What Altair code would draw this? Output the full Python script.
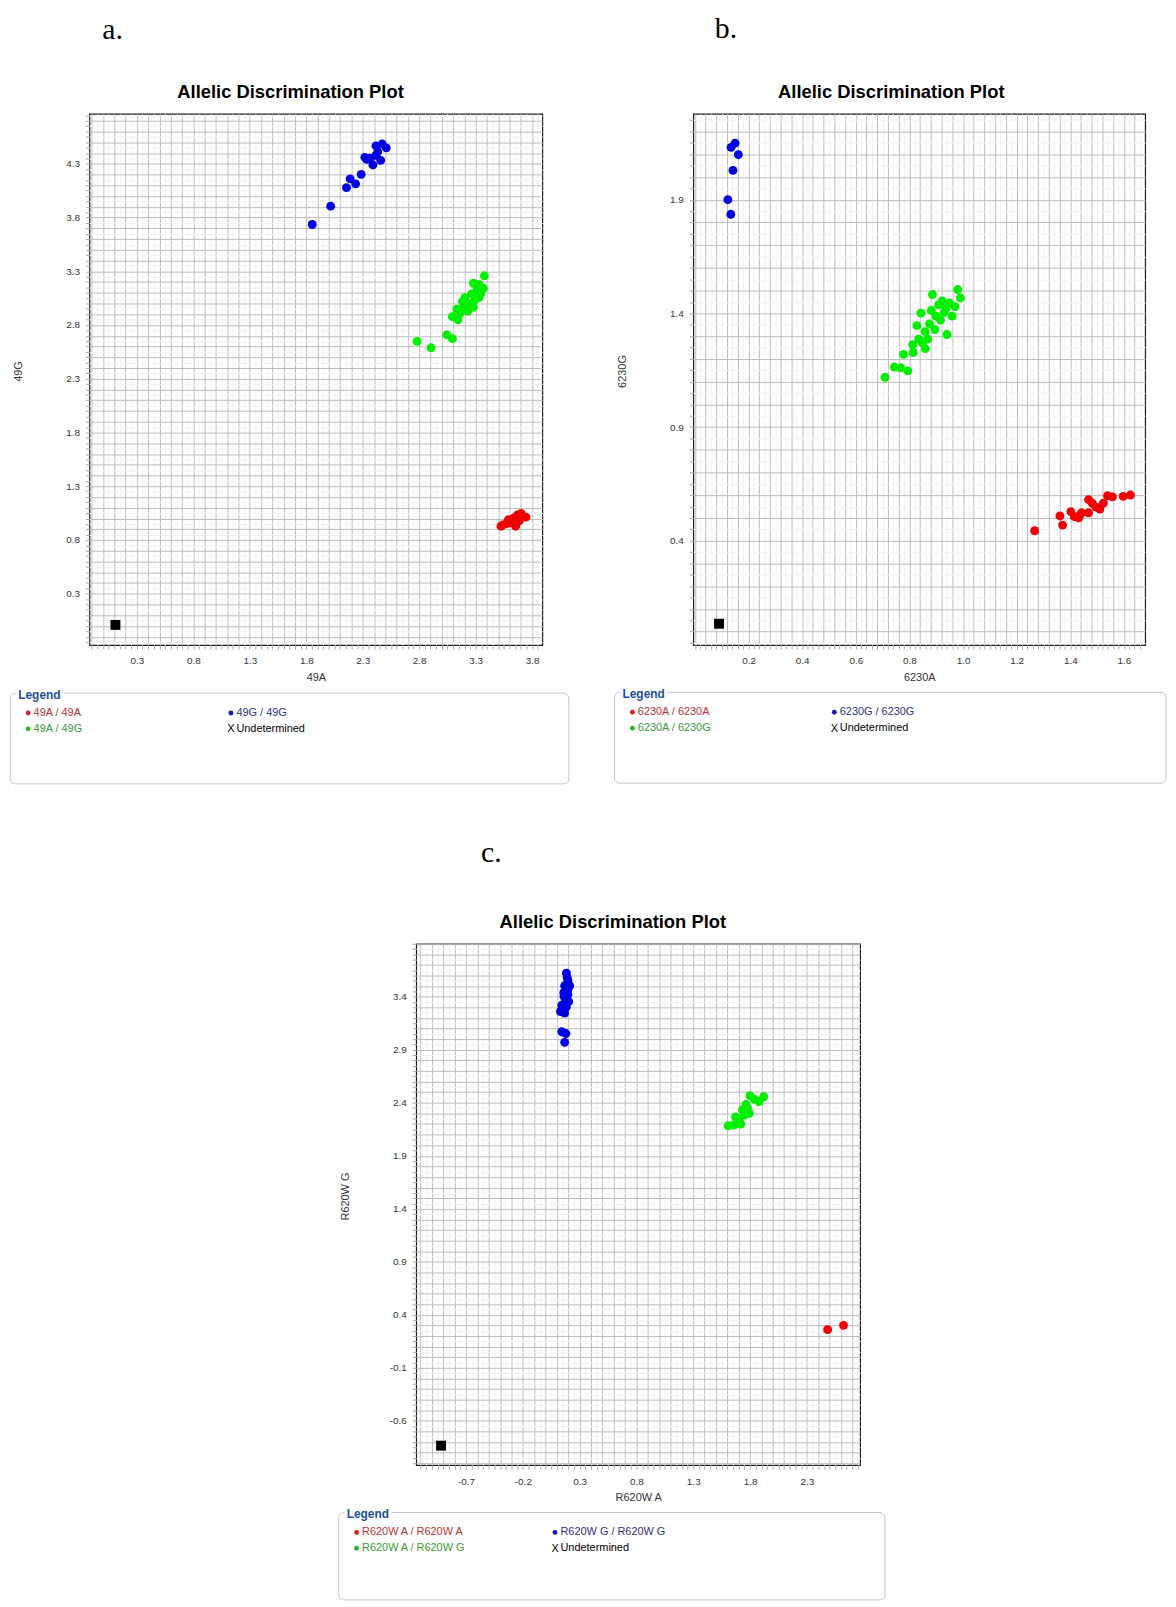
import altair as alt
import numpy as np
import pandas as pd

FONT = "Liberation Sans"
SERIF = "Liberation Serif"
PLOT_TITLE = "Allelic Discrimination Plot"
GENOTYPES = ["homA", "homG", "het"]
POINT_COLORS = ["#f00000", "#0000e0", "#00f000"]
LEG_DOT_COLORS = ["#d42020", "#1414b4", "#28b428"]
LEG_TEXT_COLORS = ["#b83232", "#303088", "#3a9a3a", "#000000"]

# ---------------- panel a ----------------
A_LETTER = "a."
A_X_TITLE, A_Y_TITLE = "49A", "49G"
A_X_TICKS = ["0.3", "0.8", "1.3", "1.8", "2.3", "2.8", "3.3", "3.8"]
A_Y_TICKS = ["0.3", "0.8", "1.3", "1.8", "2.3", "2.8", "3.3", "3.8", "4.3"]
A_LEGEND = ["49A / 49A", "49G / 49G", "49A / 49G", "Undetermined"]
A_RED_X = [3.524, 3.573, 3.621, 3.654, 3.670, 3.703, 3.745, 3.589, 3.638, 3.540, 3.686, 3.600, 3.660]
A_RED_Y = [0.928, 0.953, 0.971, 0.928, 1.034, 1.048, 1.013, 0.988, 1.006, 0.940, 0.978, 0.960, 0.990]
A_BLUE_X = [1.853, 2.016, 2.156, 2.189, 2.237, 2.286, 2.335, 2.368, 2.390, 2.417, 2.417, 2.459, 2.472, 2.508, 2.319, 2.433]
A_BLUE_Y = [3.735, 3.905, 4.078, 4.159, 4.113, 4.201, 4.342, 4.353, 4.289, 4.378, 4.466, 4.332, 4.484, 4.448, 4.360, 4.410]
A_GREEN_X = [2.781, 2.905, 3.045, 3.094, 3.094, 3.143, 3.133, 3.182, 3.205, 3.231, 3.247, 3.280,
             3.296, 3.328, 3.345, 3.280, 3.328, 3.368, 3.377, 3.166, 3.198, 3.263, 3.312]
A_GREEN_Y = [2.648, 2.588, 2.708, 2.673, 2.877, 2.849, 2.948, 3.018, 3.054, 2.930, 2.999, 2.966,
             3.036, 3.054, 3.089, 3.188, 3.177, 3.142, 3.258, 2.913, 2.983, 3.089, 3.124]
A_UND_X, A_UND_Y = [0.11], [0.01]

# ---------------- panel b ----------------
B_LETTER = "b."
B_X_TITLE, B_Y_TITLE = "6230A", "6230G"
B_X_TICKS = ["0.2", "0.4", "0.6", "0.8", "1.0", "1.2", "1.4", "1.6"]
B_Y_TICKS = ["0.4", "0.9", "1.4", "1.9"]
B_LEGEND = ["6230A / 6230A", "6230G / 6230G", "6230A / 6230G", "Undetermined"]
B_RED_X = [1.267, 1.361, 1.371, 1.402, 1.415, 1.431, 1.442, 1.468, 1.468, 1.496, 1.510, 1.523,
           1.539, 1.557, 1.597, 1.624, 1.482, 1.436]
B_RED_Y = [0.444, 0.509, 0.469, 0.528, 0.506, 0.501, 0.523, 0.581, 0.523, 0.548, 0.539, 0.565,
           0.598, 0.593, 0.595, 0.601, 0.565, 0.514]
B_BLUE_X = [0.150, 0.135, 0.162, 0.142, 0.123, 0.134]
B_BLUE_Y = [2.149, 2.130, 2.098, 2.029, 1.900, 1.836]
B_GREEN_X = [0.709, 0.744, 0.767, 0.794, 0.778, 0.814, 0.812, 0.835, 0.859, 0.828, 0.843, 0.859,
             0.875, 0.886, 0.882, 0.899, 0.909, 0.922, 0.936, 0.940, 0.949, 0.959, 0.970, 0.980,
             0.990, 0.868, 0.895, 0.916, 0.848, 0.929]
B_GREEN_Y = [1.119, 1.164, 1.161, 1.147, 1.220, 1.228, 1.262, 1.287, 1.245, 1.346, 1.401, 1.320,
             1.354, 1.483, 1.413, 1.388, 1.438, 1.455, 1.421, 1.307, 1.446, 1.388, 1.430, 1.505,
             1.468, 1.287, 1.329, 1.371, 1.270, 1.405]
B_UND_X, B_UND_Y = [0.09], [0.035]

# ---------------- panel c ----------------
C_LETTER = "c."
C_X_TITLE, C_Y_TITLE = "R620W A", "R620W G"
C_X_TICKS = ["-0.7", "-0.2", "0.3", "0.8", "1.3", "1.8", "2.3"]
C_Y_TICKS = ["-0.6", "-0.1", "0.4", "0.9", "1.4", "1.9", "2.4", "2.9", "3.4"]
C_LEGEND = ["R620W A / R620W A", "R620W G / R620W G", "R620W A / R620W G", "Undetermined"]
C_RED_X = [2.483, 2.623]
C_RED_Y = [0.260, 0.301]
C_BLUE_X = [0.183, 0.197, 0.168, 0.212, 0.191, 0.162, 0.197, 0.204, 0.143, 0.183, 0.131, 0.168,
            0.143, 0.179, 0.168, 0.190, 0.175, 0.150, 0.200, 0.160]
C_BLUE_Y = [3.622, 3.555, 3.505, 3.505, 3.454, 3.405, 3.421, 3.354, 3.320, 3.304, 3.261, 3.247,
            3.070, 3.053, 2.970, 3.580, 3.370, 3.280, 3.480, 3.440]
C_GREEN_X = [1.607, 1.657, 1.672, 1.718, 1.733, 1.763, 1.793, 1.799, 1.778, 1.838, 1.878, 1.920,
             1.748, 1.703, 1.690, 1.770]
C_GREEN_Y = [2.183, 2.190, 2.267, 2.200, 2.334, 2.384, 2.300, 2.467, 2.350, 2.434, 2.410, 2.457,
             2.283, 2.233, 2.210, 2.320]
C_UND_X, C_UND_Y = [-0.92], [-0.834]


def build_axis(lo, hi, minor, major, tick_labels, title, is_x, H):
    start = np.ceil(lo / minor - 1e-9) * minor
    vals = [float(round(v, 4)) for v in np.arange(start, hi + 1e-9, minor)]
    nums = "[" + ",".join(str(float(s)) for s in tick_labels) + "]"
    strs = "[" + ",".join("'" + s + "'" for s in tick_labels) + "]"
    key = "round(datum.value*100)/100"
    expr = f"indexof({nums}, {key}) >= 0 ? {strs}[indexof({nums}, {key})] : ''"
    test = f"abs(datum.value/{major} - round(datum.value/{major})) < 0.001"
    kw = dict(
        values=vals, labelExpr=expr, labelOverlap=False, labelFlush=False, domain=False,
        grid=True,
        gridColor={"condition": {"test": test, "value": "#bcbcbc"}, "value": "#f2f2f2"},
        gridWidth=1, ticks=True, tickSize=4, tickColor="#a8a8a8", tickWidth=1,
        labelFont=FONT, labelFontSize=10, labelColor="#333333",
        title=title, titleFont=FONT, titleFontSize=11, titleFontWeight="normal",
        titleColor="#333333", titleBaseline="middle",
    )
    if is_x:
        kw.update(labelPadding=7, titleY=33)
    else:
        kw.update(labelPadding=6, titleX=-71.5, titleY=H / 2 - 8.5)
    return alt.Axis(**kw)


def one(s):
    return pd.DataFrame({"label": [s]})


def text_layer(s, x, y, **style):
    return alt.Chart(one(s)).mark_text(**style).encode(
        x=alt.value(x), y=alt.value(y), text="label:N")


def panel(letter, rx, ry, bx, by, gx, gy, ux, uy, x_ticks, y_ticks, x_title, y_title, legend,
          W, H, xdom, ydom, xminor, xmajor, yminor, ymajor, letter_x, letter_y, box, col2):
    rows = []
    for g, xs, ys in zip(GENOTYPES, (rx, bx, gx), (ry, by, gy)):
        rows += [{"x": a, "y": b, "g": g} for a, b in zip(xs, ys)]
    df = pd.DataFrame(rows)
    xaxis = build_axis(xdom[0], xdom[1], xminor, xmajor, x_ticks, x_title, True, H)
    yaxis = build_axis(ydom[0], ydom[1], yminor, ymajor, y_ticks, y_title, False, H)
    xenc = alt.X("x:Q", scale=alt.Scale(domain=xdom, nice=False, zero=False), axis=xaxis)
    yenc = alt.Y("y:Q", scale=alt.Scale(domain=ydom, nice=False, zero=False), axis=yaxis)
    pts = alt.Chart(df).mark_circle(size=80, opacity=1).encode(
        x=xenc, y=yenc,
        color=alt.Color("g:N", scale=alt.Scale(domain=GENOTYPES, range=POINT_COLORS), legend=None))
    und = alt.Chart(pd.DataFrame({"x": ux, "y": uy})).mark_square(
        size=100, color="#000000", opacity=1).encode(x=xenc, y=yenc)

    bl, br, bt, bb = box
    layers = [pts, und]
    layers.append(text_layer(PLOT_TITLE, (bl + br) / 2 + 1, -22, font=FONT, fontSize=18.5,
                             fontWeight="bold", color="#000000", align="center",
                             baseline="middle"))
    layers.append(text_layer(letter, letter_x, letter_y, font=SERIF, fontSize=30,
                             color="#000000", align="left", baseline="alphabetic"))
    layers.append(alt.Chart(one("")).mark_rect(
        fill="white", stroke="#c6c6c6", strokeWidth=1, cornerRadius=5).encode(
        x=alt.value(bl), x2=alt.value(br), y=alt.value(bt), y2=alt.value(bb)))
    layers.append(text_layer("Legend", bl + 8, bt + 1.7, font=FONT, fontSize=12,
                             fontWeight="bold", color="white", stroke="white", strokeWidth=6,
                             strokeJoin="round", align="left", baseline="middle"))
    layers.append(text_layer("Legend", bl + 8, bt + 1.7, font=FONT, fontSize=12,
                             fontWeight="bold", color="#1d4f9e", align="left",
                             baseline="middle"))
    item_pos = [(bl + 23.5, bt + 20), (bl + col2, bt + 20), (bl + 23.5, bt + 36),
                (bl + col2, bt + 36)]
    for i, (tx, ty) in enumerate(item_pos):
        if i < 3:
            layers.append(alt.Chart(one("")).mark_circle(
                size=24, color=LEG_DOT_COLORS[i], opacity=1).encode(
                x=alt.value(tx - 5.5), y=alt.value(ty)))
        else:
            layers.append(text_layer("X", tx - 5.5, ty + 0.5, font=FONT, fontSize=11,
                                     color="#000000", align="center", baseline="middle"))
        layers.append(text_layer(legend[i], tx, ty, font=FONT, fontSize=11,
                                 color=LEG_TEXT_COLORS[i], align="left", baseline="middle"))
    return alt.layer(*layers).properties(width=W, height=H)


pa = panel(A_LETTER, A_RED_X, A_RED_Y, A_BLUE_X, A_BLUE_Y, A_GREEN_X, A_GREEN_Y, A_UND_X, A_UND_Y,
           A_X_TICKS, A_Y_TICKS, A_X_TITLE, A_Y_TITLE, A_LEGEND,
           456, 535, [-0.12, 3.89], [-0.178, 4.765], 0.05, 0.1, 0.05, 0.1,
           13, -75.5, (-79.7, 482.7, 535 + 48.3, 535 + 139.7), 227.7)
pb = panel(B_LETTER, B_RED_X, B_RED_Y, B_BLUE_X, B_BLUE_Y, B_GREEN_X, B_GREEN_Y, B_UND_X, B_UND_Y,
           B_X_TICKS, B_Y_TICKS, B_X_TITLE, B_Y_TITLE, B_LEGEND,
           455, 535, [-0.006, 1.679], [-0.059, 2.278], 0.02, 0.04, 0.05, 0.1,
           21.7, -76.2, (-79.3, 476.0, 535 + 47.6, 535 + 139.0), 226.8)
pc = panel(C_LETTER, C_RED_X, C_RED_Y, C_BLUE_X, C_BLUE_Y, C_GREEN_X, C_GREEN_Y, C_UND_X, C_UND_Y,
           C_X_TICKS, C_Y_TICKS, C_X_TITLE, C_Y_TITLE, C_LEGEND,
           447, 525, [-1.139, 2.769], [-1.018, 3.90], 0.05, 0.1, 0.05, 0.1,
           65.3, -82.6, (-78.0, 472.0, 525 + 47.7, 525 + 135.7), 223.3)

spacer = alt.Chart(one("")).mark_point(opacity=0).encode(
    x=alt.value(100), y=alt.value(5)).properties(
    width=248.2, height=10, view=alt.ViewBackground(stroke="transparent"))

row1 = alt.hconcat(pa, pb, spacing=43)
row2 = alt.hconcat(spacer, pc, spacing=0)
chart = alt.vconcat(row1, row2, spacing=51.7).properties(
    padding={"left": 1, "top": 0, "right": 0, "bottom": 0}
).configure_view(stroke="#1a1a1a", strokeWidth=1.2)

chart.save("out.html", embed_options={"renderer": "svg", "actions": False})
